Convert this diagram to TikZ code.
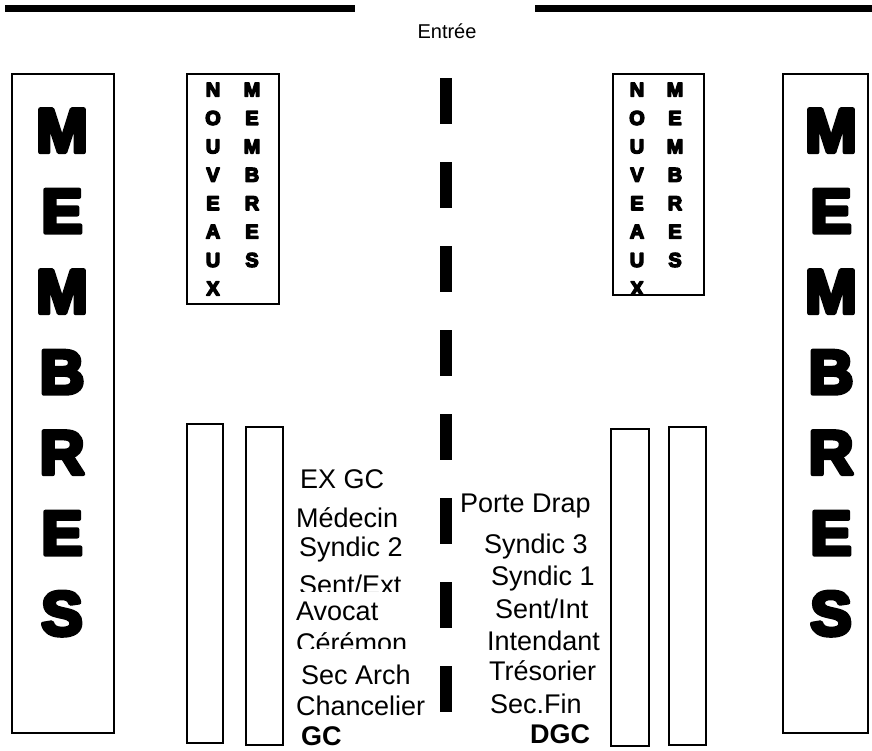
\documentclass[tikz,border=0pt]{standalone}
\usepackage{fontspec}
\setmainfont{Liberation Sans}
\newfontfamily\heavy{Liberation Sans Bold}
\newcommand{\thick}[2]{\special{pdf:literal direct 2 Tr #1 w 1 j}#2\special{pdf:literal direct 0 Tr}}
\begin{document}
\begin{tikzpicture}[x=1pt,y=-1pt,
  box/.style={draw=black,line width=1.2pt},
  bar/.style={fill=black},
  big/.style={inner sep=0pt,anchor=base,font=\heavy\fontsize{62}{62}\selectfont},
  small/.style={inner sep=0pt,anchor=base,font=\heavy\fontsize{20}{20}\selectfont},
  lab/.style={inner sep=0pt,anchor=base west,font=\fontsize{27}{27}\selectfont},
  blab/.style={inner sep=0pt,anchor=base west,font=\bfseries\fontsize{27}{27}\selectfont}]
\useasboundingbox (0,0) rectangle (872,751);
% top walls
\fill[bar] (5,5) rectangle (355,12);
\fill[bar] (535,5) rectangle (872,12);
\node[inner sep=0pt,font=\fontsize{20}{20}\selectfont] (entree) at (447,31) {Entrée};
% big MEMBRES boxes
\draw[box] (12,74) rectangle (114,733);
\draw[box] (783,74) rectangle (868,733);
\foreach \L [count=\i from 0] in {M,E,M,B,R,E,S} {
  \node[big] (ml\i) at (62,{152+80.5*\i}) {\thick{4.4}{\L}};
  \node[big] (mr\i) at (831,{152+80.5*\i}) {\thick{4.4}{\L}};
}
% nouveaux membres boxes
\draw[box] (187,74) rectangle (279,304);
\draw[box] (613,74) rectangle (704,295);
\foreach \L [count=\i from 0] in {N,O,U,V,E,A,U,X} {
  \node[small] (nl\i) at (213,{96.5+28.4*\i}) {\thick{1.4}{\L}};
}
\foreach \L [count=\i from 0] in {M,E,M,B,R,E,S} {
  \node[small] (ol\i) at (252,{96.5+28.4*\i}) {\thick{1.4}{\L}};
  \node[small] (or\i) at (675,{96.5+28.4*\i}) {\thick{1.4}{\L}};
}
\begin{scope}
\clip (613,74) rectangle (704,295);
\foreach \L [count=\i from 0] in {N,O,U,V,E,A,U,X} {
  \node[small] (nr\i) at (637,{96.5+28.4*\i}) {\thick{1.4}{\L}};
}
\end{scope}
% central dashes
\foreach \k in {0,...,7} {
  \fill[bar] (440,{78+84*\k}) rectangle (452,{124+84*\k});
}
% small rectangles
\draw[box] (187,424) rectangle (223,743);
\draw[box] (246,427) rectangle (283,745);
\draw[box] (611,429) rectangle (649,746);
\draw[box] (669,427) rectangle (706,745);
% left column labels
\node[lab] (exgc) at (300,488) {EX GC};
\node[lab] (med) at (296,527) {Médecin};
\node[lab] (syn2) at (299,556) {Syndic 2};
\begin{scope}
\clip (280,560) rectangle (440,591);
\node[lab,text depth=0pt] (sext) at (299,594) {Sent/Ext};
\end{scope}
\node[lab] (avo) at (296,620) {Avocat};
\begin{scope}
\clip (280,625) rectangle (440,648);
\node[lab,text depth=0pt] (cer) at (296,652) {Cérémon};
\end{scope}
\node[lab] (sec) at (301,684) {Sec Arch};
\node[lab] (chan) at (296,715) {Chancelier};
\node[blab] (gc) at (301,745) {GC};
% right column labels
\node[lab] (pd) at (460,512) {Porte Drap};
\node[lab] (syn3) at (484,553) {Syndic 3};
\node[lab] (syn1) at (491,585) {Syndic 1};
\node[lab] (sint) at (495,618) {Sent/Int};
\node[lab] (int) at (487,650) {Intendant};
\node[lab] (tres) at (489,680) {Trésorier};
\node[lab] (sfin) at (490,713) {Sec.Fin};
\node[blab] (dgc) at (530,743) {DGC};
\end{tikzpicture}
\end{document}
